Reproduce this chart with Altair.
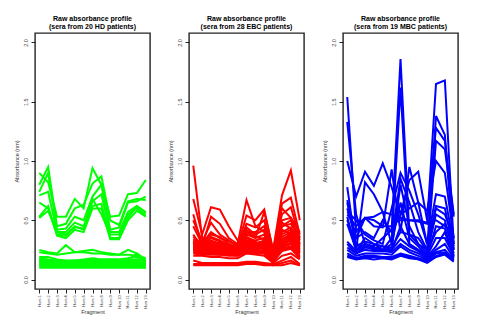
import altair as alt
import pandas as pd

fragments = [f"Hum {i}" for i in range(1, 14)]
tick_vals = list(range(1, 14))
y_ticks = [0.0, 0.5, 1.0, 1.5, 2.0]

hd = [
    [0.90, 0.82, 0.53, 0.53, 0.68, 0.60, 0.94, 0.80, 0.53, 0.54, 0.72, 0.73, 0.84],
    [0.80, 0.95, 0.45, 0.47, 0.60, 0.63, 0.81, 0.87, 0.50, 0.46, 0.66, 0.68, 0.67],
    [0.74, 0.90, 0.42, 0.43, 0.53, 0.50, 0.70, 0.80, 0.42, 0.44, 0.65, 0.66, 0.70],
    [0.71, 0.74, 0.40, 0.40, 0.48, 0.45, 0.66, 0.72, 0.40, 0.40, 0.57, 0.62, 0.56],
    [0.65, 0.60, 0.38, 0.37, 0.45, 0.42, 0.62, 0.64, 0.35, 0.35, 0.55, 0.60, 0.54],
    [0.53, 0.62, 0.37, 0.35, 0.42, 0.40, 0.60, 0.60, 0.34, 0.34, 0.50, 0.58, 0.53],
    [0.52, 0.58, 0.40, 0.38, 0.44, 0.43, 0.68, 0.55, 0.38, 0.38, 0.52, 0.62, 0.57],
    [0.25, 0.23, 0.22, 0.29, 0.23, 0.24, 0.25, 0.23, 0.22, 0.21, 0.25, 0.22, 0.17],
    [0.23, 0.22, 0.21, 0.22, 0.23, 0.23, 0.22, 0.22, 0.21, 0.21, 0.21, 0.20, 0.18],
    [0.19, 0.19, 0.17, 0.16, 0.16, 0.17, 0.18, 0.17, 0.17, 0.17, 0.18, 0.19, 0.16],
    [0.18, 0.17, 0.16, 0.15, 0.15, 0.16, 0.17, 0.16, 0.16, 0.16, 0.16, 0.17, 0.15],
    [0.17, 0.15, 0.15, 0.15, 0.16, 0.16, 0.16, 0.16, 0.15, 0.15, 0.17, 0.22, 0.15],
    [0.16, 0.16, 0.15, 0.14, 0.15, 0.15, 0.16, 0.15, 0.15, 0.15, 0.15, 0.15, 0.14],
    [0.15, 0.14, 0.14, 0.14, 0.14, 0.14, 0.15, 0.14, 0.14, 0.14, 0.14, 0.14, 0.13],
    [0.14, 0.13, 0.13, 0.13, 0.13, 0.13, 0.14, 0.13, 0.13, 0.13, 0.13, 0.13, 0.13],
    [0.13, 0.12, 0.12, 0.12, 0.12, 0.12, 0.13, 0.12, 0.12, 0.12, 0.12, 0.12, 0.12],
    [0.12, 0.12, 0.11, 0.12, 0.12, 0.12, 0.12, 0.11, 0.12, 0.12, 0.12, 0.11, 0.11],
    [0.11, 0.11, 0.11, 0.11, 0.11, 0.11, 0.11, 0.11, 0.11, 0.11, 0.11, 0.11, 0.10],
    [0.10, 0.10, 0.10, 0.10, 0.10, 0.10, 0.10, 0.10, 0.10, 0.10, 0.10, 0.10, 0.10],
    [0.16, 0.14, 0.15, 0.13, 0.14, 0.16, 0.15, 0.16, 0.14, 0.15, 0.14, 0.16, 0.12],
]

ebc = [
    [0.96, 0.35, 0.30, 0.28, 0.27, 0.25, 0.35, 0.30, 0.28, 0.20, 0.45, 0.50, 0.30],
    [0.68, 0.38, 0.61, 0.59, 0.45, 0.33, 0.40, 0.35, 0.57, 0.25, 0.71, 0.92, 0.50],
    [0.55, 0.28, 0.53, 0.47, 0.35, 0.30, 0.67, 0.45, 0.40, 0.22, 0.64, 0.69, 0.38],
    [0.50, 0.32, 0.48, 0.38, 0.33, 0.28, 0.54, 0.50, 0.59, 0.24, 0.55, 0.61, 0.35],
    [0.45, 0.30, 0.38, 0.36, 0.30, 0.27, 0.47, 0.44, 0.50, 0.20, 0.50, 0.52, 0.33],
    [0.38, 0.27, 0.36, 0.33, 0.29, 0.26, 0.40, 0.40, 0.45, 0.22, 0.45, 0.47, 0.36],
    [0.33, 0.26, 0.32, 0.30, 0.28, 0.25, 0.38, 0.35, 0.38, 0.21, 0.40, 0.44, 0.30],
    [0.32, 0.28, 0.30, 0.29, 0.27, 0.24, 0.35, 0.33, 0.35, 0.20, 0.38, 0.42, 0.28],
    [0.30, 0.27, 0.29, 0.28, 0.26, 0.24, 0.33, 0.30, 0.33, 0.19, 0.36, 0.40, 0.32],
    [0.29, 0.26, 0.28, 0.27, 0.26, 0.23, 0.31, 0.29, 0.31, 0.19, 0.34, 0.38, 0.27],
    [0.28, 0.25, 0.27, 0.26, 0.25, 0.23, 0.30, 0.28, 0.30, 0.18, 0.32, 0.36, 0.25],
    [0.27, 0.25, 0.26, 0.25, 0.24, 0.22, 0.29, 0.27, 0.29, 0.18, 0.30, 0.35, 0.24],
    [0.26, 0.24, 0.25, 0.25, 0.24, 0.22, 0.28, 0.26, 0.28, 0.17, 0.29, 0.33, 0.23],
    [0.25, 0.23, 0.25, 0.24, 0.23, 0.21, 0.27, 0.25, 0.27, 0.17, 0.28, 0.31, 0.22],
    [0.31, 0.24, 0.31, 0.31, 0.29, 0.27, 0.33, 0.31, 0.32, 0.23, 0.34, 0.37, 0.29],
    [0.29, 0.28, 0.33, 0.30, 0.27, 0.25, 0.36, 0.32, 0.26, 0.21, 0.42, 0.38, 0.31],
    [0.27, 0.27, 0.28, 0.27, 0.25, 0.24, 0.32, 0.28, 0.27, 0.20, 0.30, 0.40, 0.26],
    [0.34, 0.29, 0.35, 0.32, 0.30, 0.26, 0.42, 0.36, 0.34, 0.22, 0.48, 0.43, 0.34],
    [0.28, 0.26, 0.27, 0.26, 0.25, 0.23, 0.29, 0.27, 0.28, 0.26, 0.31, 0.34, 0.37],
    [0.26, 0.23, 0.24, 0.23, 0.22, 0.22, 0.26, 0.24, 0.25, 0.18, 0.27, 0.30, 0.21],
    [0.24, 0.22, 0.23, 0.22, 0.22, 0.21, 0.25, 0.23, 0.24, 0.17, 0.26, 0.28, 0.20],
    [0.23, 0.21, 0.22, 0.21, 0.21, 0.20, 0.24, 0.22, 0.23, 0.16, 0.25, 0.27, 0.19],
    [0.22, 0.21, 0.21, 0.21, 0.20, 0.20, 0.23, 0.22, 0.22, 0.15, 0.24, 0.26, 0.18],
    [0.20, 0.20, 0.19, 0.19, 0.18, 0.18, 0.22, 0.21, 0.20, 0.14, 0.20, 0.22, 0.17],
    [0.16, 0.14, 0.14, 0.14, 0.14, 0.14, 0.15, 0.15, 0.14, 0.13, 0.16, 0.19, 0.13],
    [0.13, 0.13, 0.13, 0.13, 0.13, 0.13, 0.14, 0.14, 0.13, 0.12, 0.14, 0.16, 0.12],
    [0.12, 0.12, 0.12, 0.12, 0.12, 0.12, 0.13, 0.13, 0.12, 0.12, 0.12, 0.14, 0.12],
    [0.36, 0.30, 0.40, 0.35, 0.32, 0.29, 0.44, 0.38, 0.42, 0.24, 0.60, 0.52, 0.40],
]

mbc = [
    [1.54, 0.40, 0.52, 0.53, 0.57, 0.55, 0.50, 0.50, 0.49, 0.47, 1.65, 1.68, 0.30],
    [1.33, 0.55, 0.30, 0.28, 0.35, 0.42, 1.86, 0.38, 0.30, 0.25, 1.38, 1.22, 0.25],
    [1.00, 0.70, 0.91, 0.79, 0.98, 0.78, 0.55, 0.84, 0.91, 0.50, 1.28, 1.17, 0.55],
    [0.78, 0.25, 0.82, 0.72, 0.57, 0.30, 1.62, 0.30, 0.25, 0.20, 1.17, 1.10, 0.53],
    [0.67, 0.35, 0.52, 0.45, 0.44, 0.93, 0.40, 0.95, 0.65, 0.58, 1.00, 0.90, 0.35],
    [0.57, 0.50, 0.38, 0.33, 0.30, 0.60, 0.90, 0.75, 0.55, 0.30, 0.72, 0.70, 0.30],
    [0.53, 0.24, 0.35, 0.30, 0.25, 0.35, 0.85, 0.65, 0.40, 0.25, 0.62, 0.60, 0.25],
    [0.50, 0.30, 0.28, 0.26, 0.28, 0.25, 0.80, 0.45, 0.30, 0.22, 0.55, 0.50, 0.22],
    [0.47, 0.25, 0.30, 0.27, 0.25, 0.30, 0.65, 0.35, 0.28, 0.20, 0.45, 0.43, 0.20],
    [0.32, 0.24, 0.28, 0.25, 0.24, 0.24, 0.45, 0.30, 0.25, 0.20, 0.35, 0.35, 0.20],
    [0.30, 0.22, 0.27, 0.26, 0.25, 0.25, 0.34, 0.28, 0.24, 0.19, 0.28, 0.40, 0.19],
    [0.27, 0.22, 0.25, 0.24, 0.24, 0.23, 0.30, 0.25, 0.22, 0.18, 0.25, 0.30, 0.18],
    [0.25, 0.20, 0.22, 0.22, 0.22, 0.21, 0.28, 0.23, 0.20, 0.17, 0.23, 0.25, 0.17],
    [0.22, 0.18, 0.20, 0.20, 0.19, 0.19, 0.22, 0.20, 0.18, 0.16, 0.22, 0.23, 0.16],
    [0.20, 0.18, 0.19, 0.19, 0.19, 0.18, 0.21, 0.19, 0.17, 0.15, 0.20, 0.22, 0.16],
    [0.19, 0.17, 0.18, 0.17, 0.18, 0.17, 0.20, 0.18, 0.17, 0.14, 0.19, 0.21, 0.15],
    [0.55, 0.45, 0.52, 0.50, 0.45, 0.45, 0.52, 0.50, 0.50, 0.48, 0.50, 0.45, 0.40],
    [0.60, 0.35, 0.40, 0.35, 0.50, 0.40, 0.55, 0.60, 0.65, 0.30, 0.60, 0.55, 0.35],
    [0.65, 0.28, 0.32, 0.30, 0.28, 0.27, 0.40, 0.38, 0.35, 0.24, 0.40, 0.47, 0.28],
]

FONT = "Liberation Sans"
label_arr = "[" + ",".join(f"'{f}'" for f in fragments) + "]"


def panel(series, color, title_lines):
    rows = []
    for i, s in enumerate(series):
        for j, v in enumerate(s):
            rows.append({"patient": i, "frag": tick_vals[j], "value": v})
    df = pd.DataFrame(rows)
    return (
        alt.Chart(
            df,
            title=alt.TitleParams(
                title_lines, font=FONT, fontSize=7, fontWeight="bold",
                frame="group", anchor="middle", offset=3, lineHeight=8.5, color="black",
            ),
        )
        .mark_line(color=color, strokeWidth=2)
        .encode(
            x=alt.X(
                "frag:Q",
                scale=alt.Scale(domain=[0.52, 13.48], nice=False, zero=False),
                axis=alt.Axis(
                    values=tick_vals, labelExpr=label_arr + "[datum.value-1]",
                    labelAngle=270, labelFontSize=3.8, labelFont=FONT, labelPadding=2,
                    tickSize=4, tickColor="#222", domain=False, grid=False,
                    title="Fragment", titleFont=FONT, titleFontSize=5.5,
                    titleFontWeight="normal", titlePadding=1, labelColor="#333",
                    titleColor="#333",
                ),
            ),
            y=alt.Y(
                "value:Q",
                scale=alt.Scale(domain=[-0.08, 2.08], nice=False, zero=False),
                axis=alt.Axis(
                    values=y_ticks, format=".1f", labelAngle=270, labelFontSize=5.5,
                    labelFont=FONT, labelPadding=3, tickSize=4, tickColor="#222",
                    domain=False, grid=False, labelColor="#444",
                    title="Absorbance (nm)", titleFont=FONT, titleFontSize=5.5,
                    titleFontWeight="normal", titlePadding=4, titleColor="#333",
                ),
            ),
            detail="patient:N",
        )
        .properties(width=115, height=256)
    )


p1 = panel(hd, "#00FF00", ["Raw absorbance profile", "(sera from 20 HD patients)"])
p2 = panel(ebc, "#FF0000", ["Raw absorbance profile", "(sera from 28 EBC patients)"])
p3 = panel(mbc, "#0000FF", ["Raw absorbance profile", "(sera from 19 MBC patients)"])

chart = alt.hconcat(p1, p2, p3, spacing=16, background="white").configure_view(
    stroke="#222222", strokeWidth=1.4
)

chart.save("out.html", embed_options={"renderer": "svg", "actions": False})
